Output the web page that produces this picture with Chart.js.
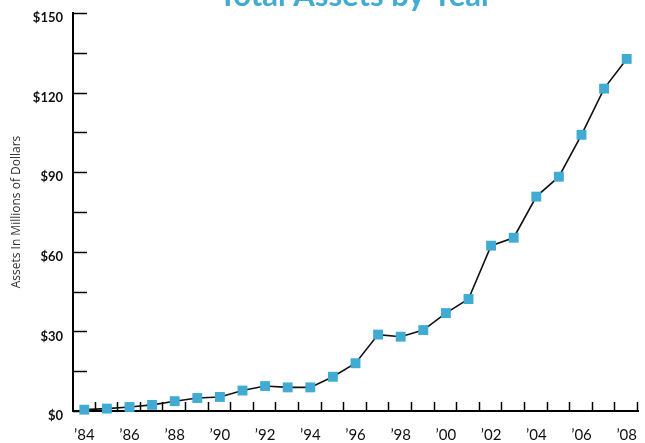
<!DOCTYPE html>
<html>
<head>
<meta charset="utf-8">
<script src="https://cdn.jsdelivr.net/npm/chart.js@4/dist/chart.umd.min.js"></script>
<style>
  html, body { margin: 0; padding: 0; background: #fff; }
  #wrap { position: relative; width: 645px; height: 443px; overflow: hidden; }
</style>
</head>
<body>
<div id="wrap"><canvas id="c" width="645" height="443"></canvas></div>
<script>
const chartTitle = 'Total Assets by Year';
const yAxisTitle = 'Assets In Millions of Dollars';
const years = ['84','85','86','87','88','89','90','91','92','93','94','95','96','97','98','99','00','01','02','03','04','05','06','07','08'];
const assets = [0.5, 0.9, 1.5, 2.3, 3.7, 4.9, 5.3, 7.7, 9.4, 8.9, 8.9, 12.9, 18.0, 28.8, 28.0, 30.5, 36.9, 42.2, 62.3, 65.3, 80.8, 88.3, 104.1, 121.5, 132.7];
const yMin = 0, yMax = 150, yStep = 15, yLabelStep = 30;

const innerTicks = {
  id: 'innerTicks',
  beforeDatasetsDraw(chart) {
    const ctx = chart.ctx;
    const xs = chart.scales.x, ys = chart.scales.y;
    ctx.save();
    ctx.strokeStyle = '#000';
    ctx.lineWidth = 1.5;
    ctx.beginPath();
    ys.ticks.forEach(t => {
      const y = Math.round(ys.getPixelForValue(t.value)) + 0.5;
      ctx.moveTo(ys.right, y);
      ctx.lineTo(ys.right + 14, y);
    });
    const n = years.length;
    for (let i = 1; i <= n; i++) {
      const x = Math.round(xs.left + i * (xs.width / n)) - 0.5;
      ctx.moveTo(x, xs.top);
      ctx.lineTo(x, xs.top - 9);
    }
    ctx.stroke();
    ctx.restore();
  }
};

const titlePlugin = {
  id: 'topTitle',
  afterDraw(chart) {
    const a = chart.chartArea;
    const ctx = chart.ctx;
    ctx.save();
    ctx.fillStyle = '#41abd3';
    ctx.font = 'bold 31px Lato';
    ctx.textAlign = 'center';
    ctx.textBaseline = 'alphabetic';
    ctx.fillText(chartTitle, (a.left + a.right) / 2, 6);
    ctx.restore();
  }
};

new Chart(document.getElementById('c'), {
  type: 'line',
  data: {
    labels: years.map(y => '\u2019' + y),
    datasets: [{
      data: assets,
      borderColor: '#111',
      borderWidth: 1.6,
      tension: 0,
      pointStyle: 'rect',
      pointRadius: 7,
      pointHoverRadius: 7,
      pointBackgroundColor: '#41abd3',
      pointBorderWidth: 0,
      clip: false
    }]
  },
  options: {
    responsive: false,
    animation: false,
    devicePixelRatio: 1,
    layout: { padding: { left: 0, right: 7, top: 13, bottom: 0 } },
    plugins: {
      legend: { display: false },
      tooltip: { enabled: false },
      title: { display: false }
    },
    scales: {
      x: {
        type: 'category',
        offset: true,
        grid: { display: false, drawTicks: false },
        border: { display: true, color: '#000', width: 2 },
        ticks: {
          autoSkip: false,
          maxRotation: 0,
          padding: 15,
          color: '#111',
          font: { family: 'Lato', size: 15 },
          callback(v, i) { return i % 2 === 0 ? this.getLabelForValue(v) : ''; }
        },
        afterFit(s) { s.height = 32; s.paddingLeft = 0; s.paddingRight = 0; }
      },
      y: {
        min: yMin, max: yMax,
        grid: { display: false, drawTicks: false },
        border: { display: true, color: '#000', width: 2 },
        ticks: {
          stepSize: yStep,
          padding: 10,
          labelOffset: 5,
          color: '#111',
          font: { family: 'Lato', size: 13, weight: 'bold' },
          callback(v) { return v % yLabelStep === 0 ? '$' + v : ''; }
        },
        title: {
          display: true,
          text: yAxisTitle,
          color: '#333',
          font: { family: 'Open Sans', size: 12 },
          padding: { top: 9, bottom: 0 }
        },
        afterFit(s) { s.width = 73; s.paddingTop = 0; s.paddingBottom = 0; }
      }
    }
  },
  plugins: [innerTicks, titlePlugin]
});
</script>
</body>
</html>
